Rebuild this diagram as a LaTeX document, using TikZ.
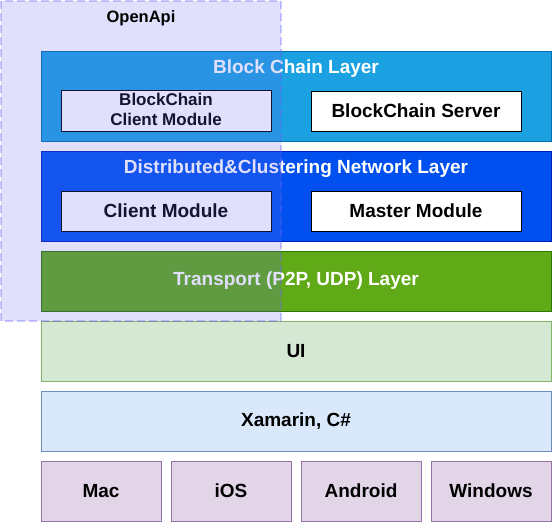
\documentclass[tikz,border=0pt]{standalone}
\usepackage{fontspec}
\setmainfont{Liberation Sans}
\usepackage{xcolor}
\definecolor{chainblue}{RGB}{27, 161, 226}
\definecolor{chainedge}{RGB}{0, 110, 175}
\definecolor{netblue}{RGB}{0, 80, 239}
\definecolor{netedge}{RGB}{0, 29, 188}
\definecolor{transgreen}{RGB}{96, 169, 23}
\definecolor{transedge}{RGB}{45, 118, 0}
\definecolor{uifill}{RGB}{213, 232, 212}
\definecolor{uiedge}{RGB}{130, 179, 102}
\definecolor{xamfill}{RGB}{218, 232, 252}
\definecolor{xamedge}{RGB}{108, 142, 191}
\definecolor{osfill}{RGB}{225, 213, 231}
\definecolor{osedge}{RGB}{150, 115, 166}
\definecolor{apiblue}{RGB}{100, 100, 240}
\usepackage{tikz}
\usetikzlibrary{positioning}

\tikzset{
    bigfont/.style={font=\fontsize{19}{22}\selectfont\bfseries},
    layer/.style={draw, rectangle, minimum width=510pt, inner sep=0pt},
    module/.style={draw=black, fill=white, rectangle, minimum width=210pt, minimum height=40pt, inner sep=0pt, bigfont},
    ostile/.style={draw=osedge, fill=osfill, rectangle, minimum width=120pt, minimum height=60pt, inner sep=0pt, bigfont},
    title/.style={text=white, bigfont},
}

\begin{document}
\begin{tikzpicture}[x=1pt, y=-1pt]
    \useasboundingbox (0,0) rectangle (552,522);
    % layers
    \node[layer, fill=chainblue, draw=chainedge, minimum height=90pt] (chain) at (296,96) {};
    \node[title] (chaintitle) at (296,69) {Block Chain Layer};
    \node[module] (chainclient) at (166,111) {\fontsize{17}{21}\selectfont\begin{tabular}{@{}c@{}}BlockChain\\[-1pt]Client Module\end{tabular}};
    \node[module] (chainserver) at (416,111) {BlockChain Server};
    \node[layer, fill=netblue, draw=netedge, minimum height=90pt] (net) at (296,196) {};
    \node[title] (nettitle) at (296,169) {Distributed\&Clustering Network Layer};
    \node[module] (client) at (166,211) {Client Module};
    \node[module] (master) at (416,211) {Master Module};
    \node[layer, fill=transgreen, draw=transedge, minimum height=60pt, title] (transport) at (296,281) {Transport (P2P, UDP) Layer};
    \node[layer, fill=uifill, draw=uiedge, minimum height=60pt, bigfont] (ui) at (296,351) {UI};
    \node[layer, fill=xamfill, draw=xamedge, minimum height=60pt, bigfont] (xamarin) at (296,421) {Xamarin, C\#};
    % platforms
    \node[ostile] (mac) at (101,491) {Mac};
    \node[ostile] (ios) at (231,491) {iOS};
    \node[ostile] (android) at (361,491) {Android};
    \node[ostile] (windows) at (491,491) {Windows};
    % open api overlay
    \draw[apiblue, fill opacity=0.2, draw opacity=0.35, dash pattern=on 8pt off 4pt, line width=2pt, fill=apiblue] (1,1) rectangle (281,321);
    \node[font=\fontsize{16.5}{19}\selectfont\bfseries] (openapi) at (141,18) {OpenApi};
\end{tikzpicture}
\end{document}
